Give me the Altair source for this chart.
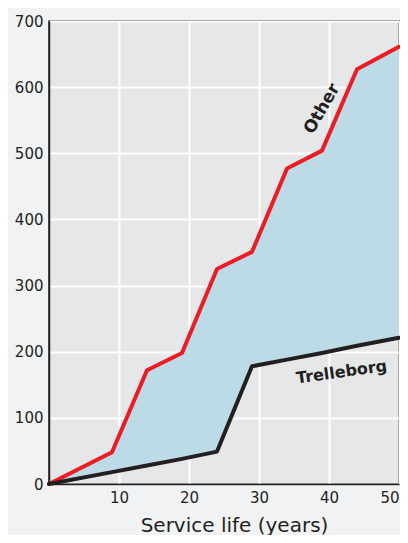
import altair as alt
import pandas as pd

# Data
years = [0, 9, 14, 19, 24, 29, 34, 39, 44, 50]
other = [0, 48, 172, 198, 325, 351, 477, 504, 627, 661]
trelleborg = [0, 18, 28, 38, 49, 178, 188, 198, 209, 221]

label_text = ["Other", "Trelleborg"]
label_x = [39.0, 41.8]
label_y = [567, 169]
label_angle = [300, 352]
label_size = [17, 16]

x_ticks = [10, 20, 30, 40, 50]
y_ticks = [0, 100, 200, 300, 400, 500, 600, 700]

df = pd.DataFrame({"year": years, "other": other, "trelleborg": trelleborg})
lab = pd.DataFrame({"text": label_text, "x": label_x, "y": label_y,
                    "angle": label_angle, "size": label_size})

FONT = "DejaVu Sans"
DARK = "#231f20"

xs = alt.Scale(domain=[0, 50], nice=False, zero=True)
ys = alt.Scale(domain=[0, 700], nice=False)

xaxis = alt.Axis(values=x_ticks, title="Service life (years)", titleX=185)
yaxis = alt.Axis(values=y_ticks, title=None)

base = alt.Chart(df)

area = base.mark_area(color="#bcdbe6", opacity=1).encode(
    x=alt.X("year:Q", scale=xs, axis=xaxis),
    y=alt.Y("trelleborg:Q", scale=ys, axis=yaxis),
    y2="other:Q",
)

line_other = base.mark_line(color="#ed1c24", strokeWidth=4, strokeJoin="round", strokeCap="round").encode(
    x=alt.X("year:Q", scale=xs),
    y=alt.Y("other:Q", scale=ys),
)

line_trel = base.mark_line(color=DARK, strokeWidth=4, strokeJoin="round", strokeCap="round").encode(
    x=alt.X("year:Q", scale=xs),
    y=alt.Y("trelleborg:Q", scale=ys),
)

labels = alt.Chart(lab).mark_text(
    font=FONT, fontWeight="bold", color=DARK, align="center", baseline="middle"
).encode(
    x=alt.X("x:Q", scale=xs),
    y=alt.Y("y:Q", scale=ys),
    text="text:N",
    angle=alt.Angle("angle:Q", scale=None),
    size=alt.Size("size:Q", scale=None, legend=None),
)

chart = (
    alt.layer(area, line_other, line_trel, labels)
    .properties(
        width=350,
        height=463,
        background="#f1f2f4",
        padding={"left": 41, "top": 13, "right": 1, "bottom": 51},
        autosize=alt.AutoSizeParams(type="none"),
    )
    .configure_view(fill="#e6e7e9", stroke=DARK, strokeWidth=1.5)
    .configure_axis(
        grid=True,
        gridColor="white",
        gridWidth=2,
        gridOpacity=1,
        domainColor=DARK,
        domainWidth=1.5,
        ticks=False,
        labelFont=FONT,
        labelFontSize=15,
        labelColor=DARK,
        labelPadding=6,
        titleFont=FONT,
        titleFontSize=20,
        titleFontWeight="normal",
        titleColor=DARK,
        titlePadding=10,
    )
)

chart.save("out.html", embed_options={"renderer": "svg", "actions": False})
